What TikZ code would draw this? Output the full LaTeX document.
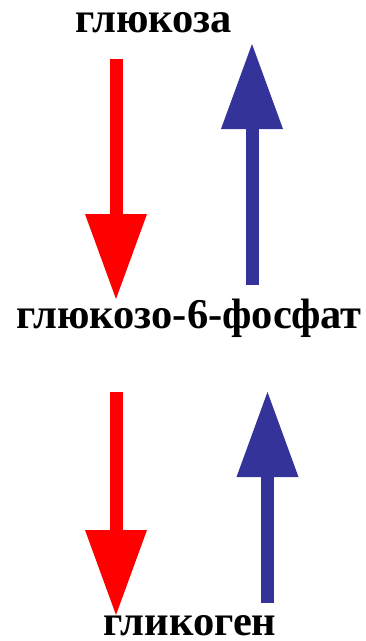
\documentclass[tikz,border=0pt]{standalone}
\usepackage{fontspec}
\setmainfont{Liberation Serif}
\usetikzlibrary{arrows.meta}
\definecolor{arrowred}{RGB}{255,0,0}
\definecolor{arrowblue}{RGB}{51,51,153}
\tikzset{
  label/.style={font=\fontsize{42.5}{50}\selectfont\bfseries, inner sep=0pt, anchor=base},
  fatarrow/.style={line width=13pt, line cap=butt,
    -{Triangle[length=85pt, width=62pt, line width=0pt 0 0]}},
  redarrow/.style={fatarrow, draw=arrowred, fill=arrowred},
  bluearrow/.style={fatarrow, draw=arrowblue, fill=arrowblue},
}
\begin{document}
\begin{tikzpicture}[x=1pt, y=-1pt]
  \path[fill=white] (0,0) rectangle (366,641);
  \useasboundingbox (0,0) rectangle (366,641);
  \node[label] (glc) at (153.5,32) {глюкоза};
  \node[label] (g6p) at (189,328) {глюкозо-6-фосфат};
  \node[label] (glg) at (190,635) {гликоген};
  \coordinate (r1s) at (116,59);
  \coordinate (r1e) at (116,299);
  \coordinate (b1s) at (252,285);
  \coordinate (b1e) at (252,44);
  \coordinate (r2s) at (116,392);
  \coordinate (r2e) at (116,615);
  \coordinate (b2s) at (267.5,603);
  \coordinate (b2e) at (267.5,392);
  \draw[redarrow] (r1s) -- (r1e);
  \draw[bluearrow] (b1s) -- (b1e);
  \draw[redarrow] (r2s) -- (r2e);
  \draw[bluearrow] (b2s) -- (b2e);
\end{tikzpicture}
\end{document}
